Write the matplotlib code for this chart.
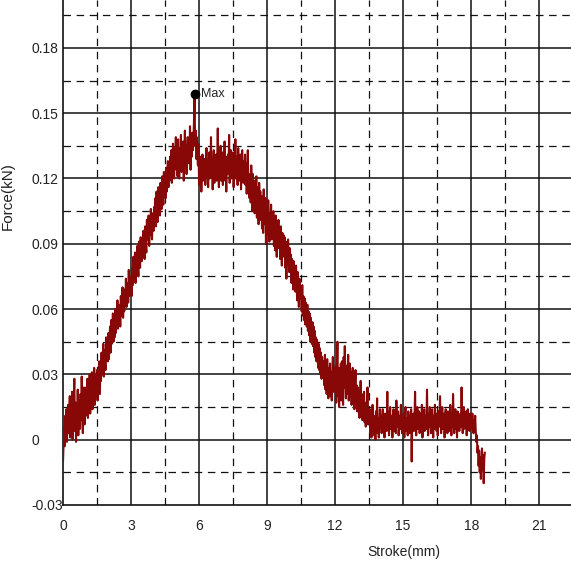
import numpy as np
import matplotlib
matplotlib.use("Agg")
import matplotlib.pyplot as plt

# paso de muestreo del recorrido (mm)
step_mm = 0.025

# fuerza, en N (1 kN = 1000 N), una fila por cada 0.5 mm
force_N = [
    -10, -2, 6, -3, 11, 2, 14, -1, 9, 16, 3, 12, 20, 1, 15, 6, 22, 0, 13, 19,
    28, 4, 17, -1, 15, 8, 23, 2, 18, 10, 5, 21, 9, 29, 12, 3, 19, 24, 7, 20,
    11, 24, 13, 28, 10, 22, 17, 30, 12, 25, 19, 31, 14, 27, 21, 33, 16, 26, 30, 20,
    32, 18, 29, 23, 36, 21, 34, 27, 40, 30, 35, 44, 29, 41, 37, 32, 47, 38, 45, 36,
    49, 37, 46, 52, 40, 55, 44, 50, 58, 45, 53, 47, 60, 49, 56, 52, 64, 51, 58, 55,
    62, 52, 66, 57, 61, 70, 56, 64, 59, 69, 63, 74, 61, 67, 72, 63, 78, 66, 71, 68,
    75, 66, 79, 71, 84, 73, 78, 86, 72, 81, 77, 89, 80, 75, 91, 83, 79, 93, 85, 82,
    92, 84, 96, 88, 83, 98, 90, 86, 101, 92, 95, 103, 89, 99, 94, 106, 97, 92, 104, 99,
    96, 107, 101, 111, 98, 114, 104, 100, 116, 108, 112, 103, 118, 110, 106, 121, 113, 108, 123, 115,
    117, 111, 125, 114, 121, 128, 116, 124, 119, 130, 122, 133, 118, 128, 136, 124, 120, 134, 127, 139,
    124, 133, 121, 138, 127, 120, 134, 126, 140, 123, 131, 125, 137, 119, 130, 142, 126, 135, 122, 133,
    139, 127, 136, 129, 144, 124, 137, 130, 141, 133, 137, 146, 159, 135, 142, 129, 139, 131, 126, 136,
    117, 127, 120, 130, 114, 125, 131, 119, 128, 122, 129, 117, 126, 134, 121, 128, 116, 127, 132, 120,
    125, 139, 121, 129, 115, 127, 133, 118, 130, 123, 131, 119, 128, 143, 122, 116, 130, 124, 135, 119,
    127, 132, 117, 129, 123, 137, 119, 128, 114, 130, 122, 131, 124, 140, 118, 127, 133, 120, 129, 124,
    132, 116, 128, 123, 138, 120, 130, 125, 117, 134, 124, 129, 119, 131, 115, 127, 133, 121, 118, 128,
    124, 131, 117, 127, 113, 125, 133, 116, 122, 111, 121, 109, 126, 115, 105, 122, 112, 119, 104, 117,
    113, 121, 102, 116, 109, 99, 118, 107, 114, 101, 112, 97, 110, 95, 115, 104, 99, 111, 90, 106,
    105, 94, 110, 99, 91, 104, 97, 108, 92, 102, 96, 105, 89, 100, 87, 103, 95, 84, 99, 93,
    101, 88, 96, 83, 98, 90, 80, 95, 86, 94, 84, 93, 79, 91, 74, 89, 81, 92, 83, 77,
    88, 77, 85, 72, 83, 78, 69, 82, 73, 79, 68, 80, 72, 64, 77, 69, 61, 74, 65, 70,
    67, 59, 71, 57, 66, 55, 65, 53, 63, 58, 52, 62, 50, 59, 48, 58, 45, 56, 51, 44,
    54, 43, 52, 40, 50, 38, 47, 36, 46, 41, 33, 44, 32, 42, 30, 40, 28, 38, 29, 35,
    36, 25, 39, 23, 34, 21, 37, 26, 19, 33, 24, 35, 20, 31, 18, 30, 38, 22, 33, 25,
    22, 34, 17, 30, 45, 20, 33, 15, 29, 23, 35, 18, 36, 26, 16, 38, 24, 43, 29, 19,
    34, 21, 28, 39, 18, 27, 35, 20, 31, 16, 27, 33, 18, 29, 14, 26, 32, 17, 25, 13,
    24, 13, 22, 10, 20, 27, 12, 21, 9, 18, 14, 22, 8, 17, 6, 16, 11, 24, 7, 14,
    8, 14, 3, 12, 1, 10, 16, 4, 11, 2, 9, 0, 13, 6, 19, 3, 10, 1, 8, 14,
    6, 11, 3, 9, 14, 5, 8, 1, 12, 7, 10, 4, 22, 6, 13, 2, 9, 15, 5, 11,
    7, 1, 10, 14, 4, 8, 12, 3, 18, 6, 9, 13, 2, 7, 11, 5, 16, 8, 3, 10,
    6, 12, 1, 9, 15, 4, 10, 7, 2, 13, 8, 3, 11, 5, 14, -10, 9, 6, 12, 4,
    10, 22, 7, 2, 11, 15, 5, 9, 13, 3, 8, 12, 6, 16, 1, 10, 7, 14, 4, 9,
    11, 5, 23, 8, 2, 12, 6, 15, 9, 3, 10, 14, 7, 1, 11, 5, 16, 8, 12, 4,
    9, 2, 13, 6, 10, 20, 7, 3, 11, 15, 5, 9, 12, 1, 8, 14, 6, 10, 3, 13,
    7, 11, 4, 16, 9, 2, 12, 6, 21, 8, 3, 10, 14, 5, 9, 1, 13, 7, 11, 4,
    8, 12, 6, 24, 10, 3, 9, 15, 5, 11, 7, 13, 2, 9, 14, 6, 10, 4, 12, 8,
    10, 5, 12, 7, 3, 9, 6, 11, 4, -1, 2, -6, -3, -12, -5, -15, -8, -18, -10, -4,
    -14, -7, -20, -9, -6,
]

# punto maximo marcado en la grafica
max_stroke = 5.8
max_force = 0.159

x_ticks = [0, 3, 6, 9, 12, 15, 18, 21]
x_tick_labels = ["0", "3", "6", "9", "12", "15", "18", "21"]
y_ticks = [-0.03, 0, 0.03, 0.06, 0.09, 0.12, 0.15, 0.18]
y_tick_labels = ["-0.03", "0", "0.03", "0.06", "0.09", "0.12", "0.15", "0.18"]
x_minor = [1.5, 4.5, 7.5, 10.5, 13.5, 16.5, 19.5]
y_minor = [-0.015, 0.015, 0.045, 0.075, 0.105, 0.135, 0.165, 0.195]

plt.rcParams['font.family'] = ['Liberation Sans Narrow', 'Liberation Sans', 'DejaVu Sans']

force = np.array(force_N) / 1000.0
stroke = np.arange(len(force)) * step_mm

fig = plt.figure(figsize=(5.71, 5.66), dpi=100)
ax = fig.add_axes([63 / 571, 61 / 566, 1 - 63 / 571, 1 - 61 / 566])

ax.set_xlim(0, 22.4)
ax.set_ylim(-0.03, 0.202)

# rejilla: continua en los valores principales, discontinua en los intermedios
for xv in x_ticks[1:]:
    ax.axvline(xv, color='#111111', lw=1.1, zorder=1)
for yv in y_ticks[1:]:
    ax.axhline(yv, color='#111111', lw=1.1, zorder=1)
for xv in x_minor:
    ax.axvline(xv, color='#111111', lw=0.9, dashes=(6, 4.5), zorder=1)
for yv in y_minor:
    ax.axhline(yv, color='#111111', lw=0.9, dashes=(6, 4.5), zorder=1)

ax.plot(stroke, force, color='#880808', lw=1.5, zorder=3)
ax.plot([max_stroke], [max_force], 'o', color='black', ms=6, zorder=4)
ax.text(max_stroke + 0.28, max_force, "Max", fontsize=9, color='#222222',
        va='center', ha='left', zorder=5)

ax.set_xticks(x_ticks)
ax.set_xticklabels(x_tick_labels)
ax.set_yticks(y_ticks)
ax.set_yticklabels(y_tick_labels)
ax.tick_params(axis='x', length=0, pad=10, labelsize=10, labelcolor='#222222')
ax.tick_params(axis='y', length=0, pad=22.5, labelsize=10, labelcolor='#222222')
for lbl in ax.get_yticklabels():
    lbl.set_horizontalalignment('left')

for side in ['top', 'right']:
    ax.spines[side].set_visible(False)
for side in ['left', 'bottom']:
    ax.spines[side].set_color('#111111')
    ax.spines[side].set_linewidth(1.2)

ax.set_xlabel("Stroke(mm)", fontsize=10, color='#222222')
ax.xaxis.set_label_coords(0.670, -0.079)
ax.set_ylabel("Force(kN)", fontsize=11, color='#222222', family='Liberation Sans')
ax.yaxis.set_label_coords(-0.0945, 0.612)

fig.savefig("out.png", dpi=100)
